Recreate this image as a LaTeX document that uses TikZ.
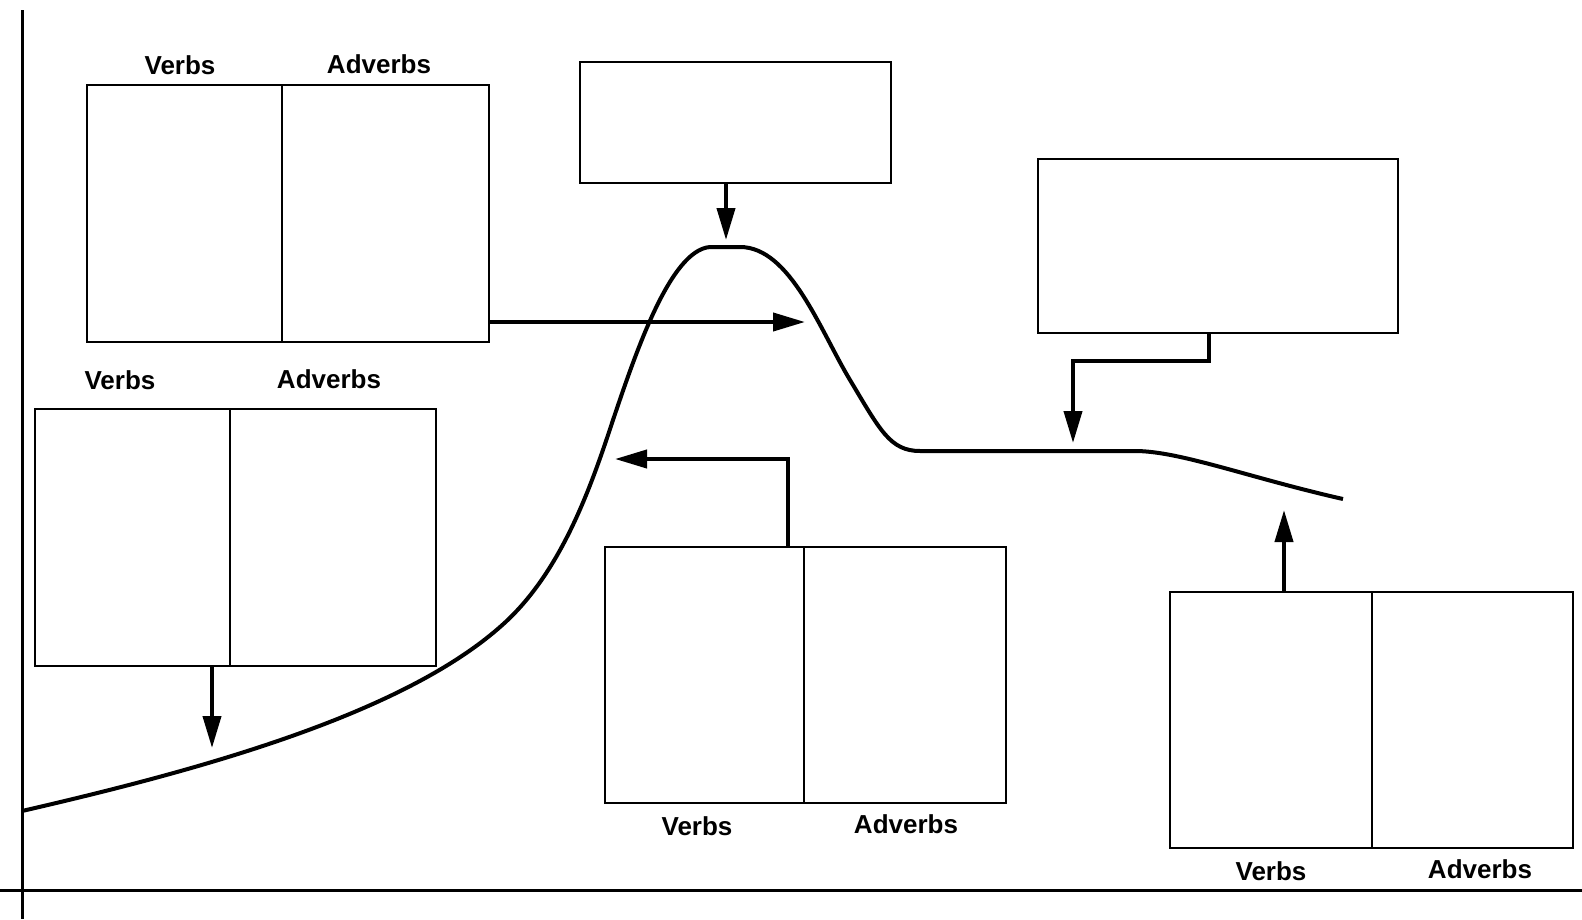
\documentclass[tikz,border=0pt]{standalone}
\usepackage{fontspec}
\setmainfont{Liberation Sans}
\usetikzlibrary{arrows.meta}

\begin{document}
\begin{tikzpicture}[x=1pt,y=-1pt,
	cell/.style={draw,line width=1.5pt,anchor=north west,inner sep=0pt,outer sep=0pt,minimum height=257pt},
	lbl/.style={font=\fontsize{26}{30}\selectfont\bfseries,inner sep=0pt},
	conn/.style={line width=4pt,-{Triangle[length=32pt,width=18pt]}}]
		\useasboundingbox (0,0) rectangle (1582,919);
		% axes
		\draw[line width=3pt] (22,10) -- (22,919);
		\draw[line width=3pt] (0,890) -- (1582,890);
		% the curve
		\draw[line width=4pt,line join=round] (22,811)
			.. controls (200,770) and (400,715) .. (500,627)
			.. controls (560,575) and (590,490) .. (613,420)
			.. controls (635,355) and (670,250) .. (710,247)
			-- (740,247)
			.. controls (790,247) and (820,330) .. (850,380)
			.. controls (880,430) and (890,451) .. (920,451)
			-- (1135,451)
			.. controls (1180,451) and (1250,478) .. (1343,499);
		% verbs / adverbs boxes
		\node[cell,minimum width=195pt] (v1) at (87,85) {};
		\node[cell,minimum width=207pt] (a1) at (282,85) {};
		\node[lbl] (lv1) at (180,65) {Verbs};
		\node[lbl] (la1) at (379,64) {Adverbs};
		\node[cell,minimum width=195pt] (v2) at (35,409) {};
		\node[cell,minimum width=206pt] (a2) at (230,409) {};
		\node[lbl] (lv2) at (120,380) {Verbs};
		\node[lbl] (la2) at (329,379) {Adverbs};
		\node[cell,minimum width=199pt,minimum height=256pt] (v3) at (605,547) {};
		\node[cell,minimum width=202pt,minimum height=256pt] (a3) at (804,547) {};
		\node[lbl] (lv3) at (697,826) {Verbs};
		\node[lbl] (la3) at (906,824) {Adverbs};
		\node[cell,minimum width=202pt,minimum height=256pt] (v4) at (1170,592) {};
		\node[cell,minimum width=201pt,minimum height=256pt] (a4) at (1372,592) {};
		\node[lbl] (lv4) at (1271,871) {Verbs};
		\node[lbl] (la4) at (1480,869) {Adverbs};
		% plain boxes
		\node[cell,minimum width=311pt,minimum height=121pt] (t1) at (580,62) {};
		\node[cell,minimum width=360pt,minimum height=174pt] (t2) at (1038,159) {};
		% arrow tips on the curve
		\coordinate (p1) at (805,322);
		\coordinate (p2) at (726,240);
		\coordinate (p3) at (212,748);
		\coordinate (p4) at (615,459);
		\coordinate (p5) at (1073,443);
		\coordinate (p6) at (1284,510);
		\draw[conn] (a1.east |- p1) -- (p1);
		\draw[conn] (t1.south -| p2) -- (p2);
		\draw[conn] (v2.south -| p3) -- (p3);
		\draw[conn] ([xshift=-16pt]v3.north east) |- (p4);
		\draw[conn] ([xshift=-9pt]t2.south) -- ++(0,28) -| (p5);
		\draw[conn] (v4.north -| p6) -- (p6);
\end{tikzpicture}
\end{document}
